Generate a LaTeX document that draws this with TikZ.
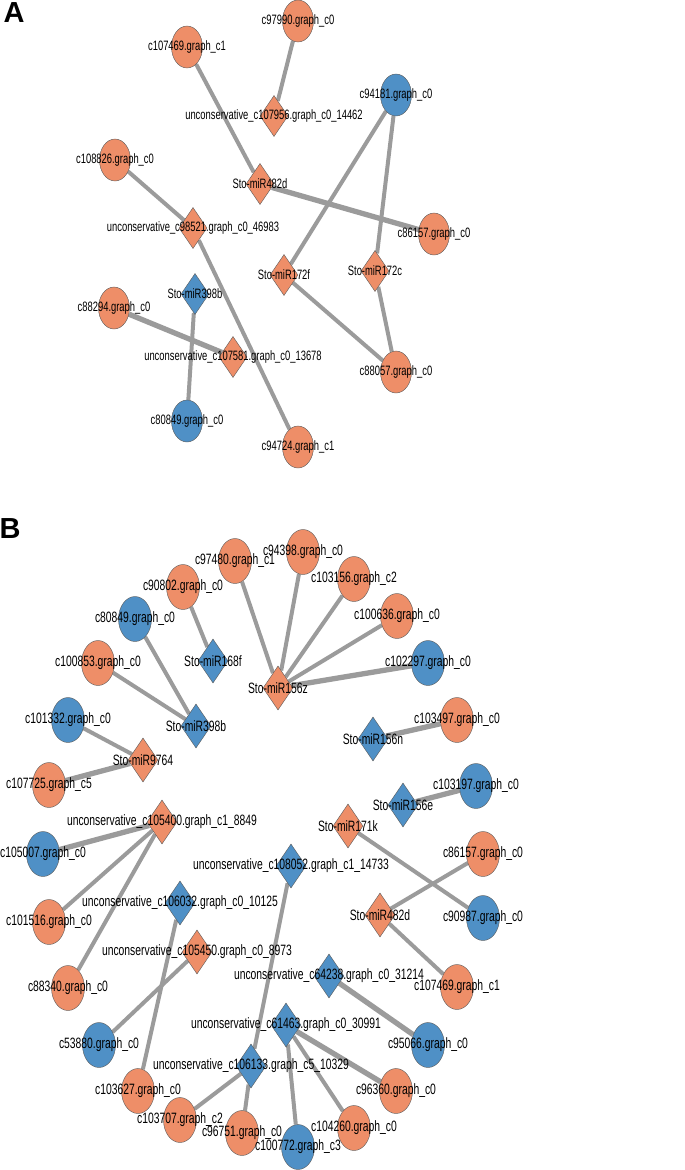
\documentclass[tikz,border=0pt]{standalone}
\usepackage{fontspec}
\setmainfont{Liberation Sans}
\newfontfamily\lblfont[FakeStretch=0.69]{Liberation Sans}
\usepackage{tikz}
\usetikzlibrary{shapes.geometric,backgrounds}

\definecolor{upreg}{HTML}{EE8E68}
\definecolor{downreg}{HTML}{4F90C6}
\definecolor{edgegray}{HTML}{9B9B9B}
\definecolor{rimgray}{HTML}{5A5A5A}

\tikzset{
  gene/.style={ellipse, draw=rimgray, line width=0.4pt, inner sep=0pt,
    minimum width=31, minimum height=42},
  mir/.style={diamond, draw=rimgray, line width=0.4pt, inner sep=0pt,
    minimum width=28, minimum height=41},
  up/.style={fill=upreg},
  down/.style={fill=downreg},
  link/.style={draw=edgegray, line width=4pt},
  strong/.style={line width=5.3pt},
  every label/.style={font=\lblfont\fontsize{13.6}{14}\selectfont, inner sep=0pt},
  panel/.style={font=\bfseries\fontsize{29}{29}\selectfont, inner sep=0pt}
}

\begin{document}
\begin{tikzpicture}[x=1pt,y=-1pt]
  \useasboundingbox (0,0) rectangle (685,1170);

  % panel A
  \node[panel] (panelA) at (14,13) {A};

  \node[gene,up,label={center:c97990.graph\_c0}] (a97990) at (298,21) {};
  \node[gene,up,label={center:c107469.graph\_c1}] (a107469) at (187,47) {};
  \node[gene,down,label={center:c94181.graph\_c0}] (a94181) at (396,95) {};
  \node[mir,up,label={center:unconservative\_c107956.graph\_c0\_14462}] (au107956) at (274,116) {};
  \node[gene,up,label={center:c108826.graph\_c0}] (a108826) at (115,160) {};
  \node[mir,up,label={center:Sto-miR482d}] (a482d) at (260,184) {};
  \node[gene,up,label={center:c86157.graph\_c0}] (a86157) at (434,234) {};
  \node[mir,up,label={center:unconservative\_c98521.graph\_c0\_46983}] (au98521) at (193,228) {};
  \node[mir,up,label={center:Sto-miR172f}] (a172f) at (284,275) {};
  \node[mir,up,label={center:Sto-miR172c}] (a172c) at (375,271) {};
  \node[mir,down,label={center:Sto-miR398b}] (a398b) at (195,294) {};
  \node[gene,up,label={center:c88294.graph\_c0}] (a88294) at (114,308) {};
  \node[mir,up,label={center:unconservative\_c107581.graph\_c0\_13678}] (au107581) at (233,357) {};
  \node[gene,up,label={center:c88057.graph\_c0}] (a88057) at (396,372) {};
  \node[gene,down,label={center:c80849.graph\_c0}] (a80849) at (187,421) {};
  \node[gene,up,label={center:c94724.graph\_c1}] (a94724) at (298,447) {};

  \begin{pgfonlayer}{background}
    \draw[link] (a97990) -- (au107956);
    \draw[link] (a107469) -- (a482d);
    \draw[link,strong] (a482d) -- (a86157);
    \draw[link] (a108826) -- (au98521);
    \draw[link] (au98521) -- (a94724);
    \draw[link] (a94181) -- (a172f);
    \draw[link] (a94181) -- (a172c);
    \draw[link] (a172f) -- (a88057);
    \draw[link] (a172c) -- (a88057);
    \draw[link] (a398b) -- (a80849);
    \draw[link,strong] (a88294) -- (au107581);
  \end{pgfonlayer}

  % panel B
  \node[panel] (panelB) at (10,529) {B};

  \begin{scope}[every label/.append style={font=\lblfont\fontsize{15}{15}\selectfont},
      gene/.append style={minimum width=33, minimum height=45},
      mir/.append style={minimum width=30, minimum height=44}]
    \node[gene,up,label={center:c94398.graph\_c0}] (b94398) at (303,552) {};
    \node[gene,up,label={center:c97480.graph\_c1}] (b97480) at (235,561) {};
    \node[gene,up,label={center:c103156.graph\_c2}] (b103156) at (354,579) {};
    \node[gene,up,label={center:c90802.graph\_c0}] (b90802) at (183,587) {};
    \node[gene,up,label={center:c100636.graph\_c0}] (b100636) at (397,616) {};
    \node[gene,down,label={center:c80849.graph\_c0}] (b80849) at (135,619) {};
    \node[mir,down,label={center:Sto-miR168f}] (b168f) at (213,661) {};
    \node[gene,up,label={center:c100853.graph\_c0}] (b100853) at (98,663) {};
    \node[gene,down,label={center:c102297.graph\_c0}] (b102297) at (428,663) {};
    \node[mir,up,label={center:Sto-miR156z}] (b156z) at (278,688) {};
    \node[gene,down,label={center:c101332.graph\_c0}] (b101332) at (68,720) {};
    \node[mir,down,label={center:Sto-miR398b}] (b398b) at (196,726) {};
    \node[gene,up,label={center:c103497.graph\_c0}] (b103497) at (457,720) {};
    \node[mir,down,label={center:Sto-miR156n}] (b156n) at (373,739) {};
    \node[mir,up,label={center:Sto-miR9764}] (b9764) at (143,760) {};
    \node[gene,up,label={center:c107725.graph\_c5}] (b107725) at (49,785) {};
    \node[gene,down,label={center:c103197.graph\_c0}] (b103197) at (476,786) {};
    \node[mir,down,label={center:Sto-miR156e}] (b156e) at (403,805) {};
    \node[mir,up,label={center:unconservative\_c105400.graph\_c1\_8849}] (bu105400) at (162,822) {};
    \node[mir,up,label={center:Sto-miR171k}] (b171k) at (348,826) {};
    \node[gene,down,label={center:c105007.graph\_c0}] (b105007) at (43,854) {};
    \node[gene,up,label={center:c86157.graph\_c0}] (b86157) at (483,854) {};
    \node[mir,down,label={center:unconservative\_c108052.graph\_c1\_14733}] (bu108052) at (291,866) {};
    \node[mir,down,label={center:unconservative\_c106032.graph\_c0\_10125}] (bu106032) at (180,903) {};
    \node[gene,up,label={center:c101516.graph\_c0}] (b101516) at (49,922) {};
    \node[mir,up,label={center:Sto-miR482d}] (b482d) at (380,915) {};
    \node[gene,down,label={center:c90987.graph\_c0}] (b90987) at (483,918) {};
    \node[mir,up,label={center:unconservative\_c105450.graph\_c0\_8973}] (bu105450) at (197,952) {};
    \node[gene,up,label={center:c88340.graph\_c0}] (b88340) at (68,988) {};
    \node[gene,up,label={center:c107469.graph\_c1}] (b107469) at (457,987) {};
    \node[mir,down,label={center:unconservative\_c64238.graph\_c0\_31214}] (bu64238) at (329,976) {};
    \node[mir,down,label={center:unconservative\_c61463.graph\_c0\_30991}] (bu61463) at (286,1025) {};
    \node[gene,down,label={center:c53880.graph\_c0}] (b53880) at (99,1045) {};
    \node[gene,down,label={center:c95066.graph\_c0}] (b95066) at (428,1045) {};
    \node[mir,down,label={center:unconservative\_c106133.graph\_c5\_10329}] (bu106133) at (251,1066) {};
    \node[gene,up,label={center:c103627.graph\_c0}] (b103627) at (138,1091) {};
    \node[gene,up,label={center:c96360.graph\_c0}] (b96360) at (396,1091) {};
    \node[gene,up,label={center:c103707.graph\_c2}] (b103707) at (180,1120) {};
    \node[gene,up,label={center:c104260.graph\_c0}] (b104260) at (354,1128) {};
    \node[gene,up,label={center:c96751.graph\_c0}] (b96751) at (242,1133) {};
    \node[gene,down,label={center:c100772.graph\_c3}] (b100772) at (298,1147) {};
  \end{scope}

  \begin{pgfonlayer}{background}
    \draw[link] (b90802) -- (b168f);
    \draw[link] (b97480) -- (b156z);
    \draw[link] (b94398) -- (b156z);
    \draw[link] (b103156) -- (b156z);
    \draw[link] (b100636) -- (b156z);
    \draw[link,strong] (b102297) -- (b156z);
    \draw[link] (b80849) -- (b398b);
    \draw[link] (b100853) -- (b398b);
    \draw[link] (b101332) -- (b9764);
    \draw[link,strong] (b107725) -- (b9764);
    \draw[link,strong] (b103497) -- (b156n);
    \draw[link,strong] (b103197) -- (b156e);
    \draw[link,strong] (b105007) -- (bu105400);
    \draw[link] (b101516) -- (bu105400);
    \draw[link] (b88340) -- (bu105400);
    \draw[link] (b171k) -- (b90987);
    \draw[link] (b86157) -- (b482d);
    \draw[link] (b482d) -- (b107469);
    \draw[link] (bu108052) -- (bu106133);
    \draw[link] (bu106032) -- (b103627);
    \draw[link] (bu105450) -- (b53880);
    \draw[link,strong] (bu64238) -- (b95066);
    \draw[link,strong] (bu61463) -- (b96360);
    \draw[link] (bu61463) -- (b104260);
    \draw[link] (bu61463) -- (b100772);
    \draw[link] (bu106133) -- (b103707);
    \draw[link] (bu106133) -- (b96751);
  \end{pgfonlayer}
\end{tikzpicture}
\end{document}
